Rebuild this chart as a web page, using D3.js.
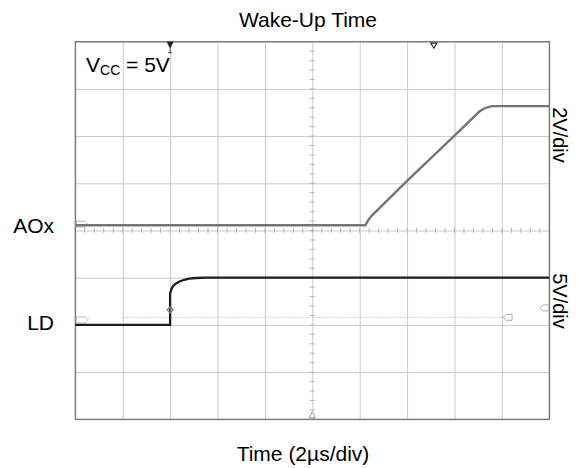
<!DOCTYPE html>
<html>
<head>
<meta charset="utf-8">
<script src="https://cdn.jsdelivr.net/npm/d3@7"></script>
<style>
  body { margin: 0; background: #fff; }
  svg { display: block; font-family: "Liberation Sans", Arial, sans-serif; }
</style>
</head>
<body>
<div id="chart"></div>
<script>
// time in us (trigger at 0), volts
const aoxTime = [-4, 8.24, 8.35, 8.5, 8.65, 10, 12, 13.05, 13.25, 13.45, 13.6, 16];
const aoxVolts = [0, 0, 0.2, 0.4, 0.55, 1.88, 3.8, 4.82, 4.95, 5.02, 5.05, 5.05];
const ldTime = [-4, 0, 0, 0.05, 0.12, 0.25, 0.4, 0.6, 0.8, 1.1, 1.5, 16];
const ldVolts = [0, 0, 3.3, 3.75, 4.1, 4.4, 4.6, 4.78, 4.9, 4.97, 5.0, 5.0];

const xDivTicks = d3.range(-4, 17, 2);   // 2us/div
const yDivTicks = d3.range(-4, 5, 1);    // 8 divisions

const aoxOffset = 0.11, aoxPerDiv = 2;   // 2V/div
const ldOffset = -2, ldPerDiv = 5;       // 5V/div

const width = 578, height = 468;
const plotL = 75.3, plotR = 549.3, plotT = 41.7, plotB = 419.3;

const svg = d3.select("#chart").append("svg")
  .attr("width", width).attr("height", height);

const x = d3.scaleLinear().domain([-4, 16]).range([plotL, plotR]);
const y = d3.scaleLinear().domain([-4, 4]).range([plotB, plotT]);

// grid
const gx = svg.append("g")
  .attr("transform", `translate(0,${plotB})`)
  .call(d3.axisBottom(x).tickValues(xDivTicks).tickFormat("")
    .tickSizeInner(-(plotB - plotT)).tickSizeOuter(0));
const gy = svg.append("g")
  .attr("transform", `translate(${plotL},0)`)
  .call(d3.axisLeft(y).tickValues(yDivTicks).tickFormat("")
    .tickSizeInner(-(plotR - plotL)).tickSizeOuter(0));
[gx, gy].forEach(g => {
  g.select(".domain").remove();
  g.selectAll(".tick line").attr("stroke", "#cacaca").attr("stroke-width", 1);
});

// center minor ticks
const cx = x(6), cy = y(0);
svg.append("g").selectAll("line")
  .data(d3.range(-4, 16.01, 0.4))
  .enter().append("line")
  .attr("x1", d => x(d)).attr("x2", d => x(d))
  .attr("y1", cy - 2.5).attr("y2", cy + 2.5)
  .attr("stroke", "#b5b5b5");
svg.append("g").selectAll("line")
  .data(d3.range(-4, 4.01, 0.2))
  .enter().append("line")
  .attr("y1", d => y(d)).attr("y2", d => y(d))
  .attr("x1", cx - 2.5).attr("x2", cx + 2.5)
  .attr("stroke", "#b5b5b5");

// trigger level dotted line
svg.append("line")
  .attr("x1", x(-2)).attr("x2", x(14.05))
  .attr("y1", y(ldOffset + 0.8 / ldPerDiv)).attr("y2", y(ldOffset + 0.8 / ldPerDiv))
  .attr("stroke", "#bdbdbd").attr("stroke-dasharray", "1,1.2");

// frame
svg.append("rect")
  .attr("x", plotL).attr("y", plotT)
  .attr("width", plotR - plotL).attr("height", plotB - plotT)
  .attr("fill", "none").attr("stroke", "#6e6e6e").attr("stroke-width", 1.2);

// ground markers
function groundMark(yPos) {
  svg.append("path")
    .attr("d", `M${plotL + 1},${yPos - 3}h9l3,3l-3,3h-9z`)
    .attr("fill", "#fff").attr("stroke", "#aaa").attr("stroke-width", 0.8);
}
groundMark(y(aoxOffset) - 1);
groundMark(y(ldOffset) - 5);

// traces
const aoxLine = d3.line()
  .x((d, i) => x(aoxTime[i]))
  .y(d => y(aoxOffset + d / aoxPerDiv));
const ldLine = d3.line()
  .x((d, i) => x(ldTime[i]))
  .y(d => y(ldOffset + d / ldPerDiv));

svg.append("path").attr("d", aoxLine(aoxVolts))
  .attr("fill", "none").attr("stroke", "#757575").attr("stroke-width", 2.4);
svg.append("path").attr("d", ldLine(ldVolts))
  .attr("fill", "none").attr("stroke", "#1c1c1c").attr("stroke-width", 2.3);

// crosshair on LD edge
const chY = y(ldOffset + 1.6 / ldPerDiv);
svg.append("circle").attr("cx", x(0)).attr("cy", chY).attr("r", 2.5)
  .attr("fill", "none").attr("stroke", "#777");
svg.append("path").attr("d", `M${x(0) - 4},${chY}h8M${x(0)},${chY - 4}v8`)
  .attr("stroke", "#777");

// trigger markers on right
function rightMark(xPos, yPos) {
  svg.append("path")
    .attr("d", `M${xPos},${yPos}l3,-3h6v6h-6z`)
    .attr("fill", "#fff").attr("stroke", "#999").attr("stroke-width", 0.8);
}
rightMark(x(15.6), y(ldOffset + 1.8 / ldPerDiv));
rightMark(x(14.05), y(ldOffset + 0.8 / ldPerDiv));

// top markers
svg.append("path")
  .attr("d", `M${x(0) - 3.5},${plotT}h7l-3.5,7z`)
  .attr("fill", "#222");
svg.append("path")
  .attr("d", `M${x(0)},${plotT + 7}v4M${x(0) - 2},${plotT + 11}h4`)
  .attr("stroke", "#444");
svg.append("path")
  .attr("d", `M${x(11.13) - 3},${plotT + 1.5}h6l-3,5z`)
  .attr("fill", "none").attr("stroke", "#222").attr("stroke-width", 1.2);
// bottom center marker
svg.append("path")
  .attr("d", `M${cx - 3},${plotB - 1.5}h6l-3,-6z`)
  .attr("fill", "#fff").attr("stroke", "#999");

// text
svg.append("text").attr("x", 308).attr("y", 27)
  .attr("text-anchor", "middle").attr("font-size", 21).text("Wake-Up Time");
svg.append("text").attr("x", 303).attr("y", 461)
  .attr("text-anchor", "middle").attr("font-size", 21).text("Time (2µs/div)");
svg.append("text").attr("x", 54).attr("y", 233)
  .attr("text-anchor", "end").attr("font-size", 21).text("AOx");
svg.append("text").attr("x", 54).attr("y", 330)
  .attr("text-anchor", "end").attr("font-size", 21).text("LD");

svg.append("text")
  .attr("transform", `translate(553,135) rotate(90)`)
  .attr("text-anchor", "middle").attr("font-size", 20).text("2V/div");
svg.append("text")
  .attr("transform", `translate(553,301) rotate(90)`)
  .attr("text-anchor", "middle").attr("font-size", 20).text("5V/div");

const vcc = svg.append("text").attr("x", 86).attr("y", 72).attr("font-size", 21);
vcc.append("tspan").text("V");
vcc.append("tspan").attr("font-size", 14).attr("dy", 3).text("CC");
vcc.append("tspan").attr("dy", -3).text(" = 5V");
</script>
</body>
</html>
